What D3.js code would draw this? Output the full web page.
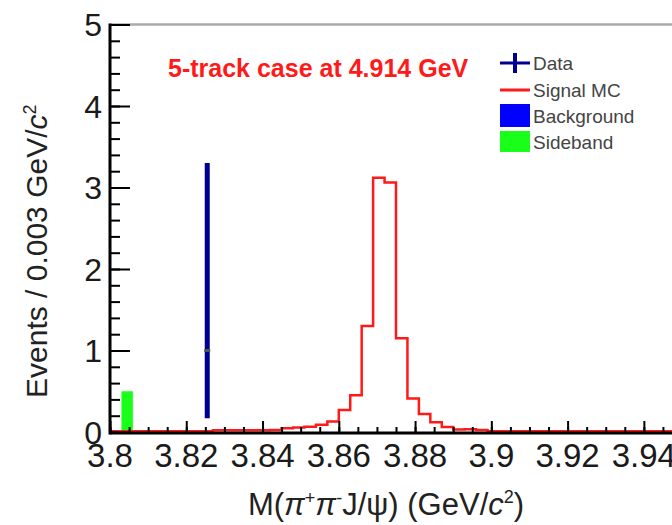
<!DOCTYPE html>
<html>
<head>
<meta charset="utf-8">
<script src="https://cdn.jsdelivr.net/npm/d3@7"></script>
<style>
  html, body { margin: 0; padding: 0; background: #ffffff; }
  svg { display: block; font-family: "Liberation Sans", Arial, sans-serif; }
</style>
</head>
<body>
<svg id="chart" width="672" height="525"></svg>
<script>
// Binning of the M(pi+ pi- J/psi) histogram (GeV/c^2)
const binStart = 3.800;
const binWidth = 0.003;

// Signal MC, events per bin (bins of 0.003 starting at 3.800)
const signalMC = [
  0.008, 0.008, 0.008, 0.008, 0.008, 0.008, 0.008, 0.008, 0.008, 0.02,
  0.02, 0.02, 0.02, 0.02, 0.025, 0.045, 0.055, 0.065, 0.09, 0.13,
  0.27, 0.45, 1.30, 3.12, 3.06, 1.15, 0.41, 0.22, 0.12, 0.06,
  0.03, 0.035, 0.025, 0.01, 0.01, 0.01, 0.01, 0.01, 0.01, 0.01,
  0.01, 0.01, 0.01, 0.01, 0.01, 0.01, 0.01, 0.01, 0.01, 0.01
];

// Sideband contribution: [bin low edge, events]
const sideband = [[3.803, 0.5]];

// Data points: mass, events, lower error, upper error
const dataMass = [3.8255];
const dataEvents = [1];
const dataErrLow = [0.83];
const dataErrHigh = [2.30];

// Axis ticks
const xMajorTicks = [3.80, 3.82, 3.84, 3.86, 3.88, 3.90, 3.92, 3.94];
const xTickLabels = ["3.8", "3.82", "3.84", "3.86", "3.88", "3.9", "3.92", "3.94"];
const yMajorTicks = [0, 1, 2, 3, 4, 5];

const legendLabels = ["Data", "Signal MC", "Background", "Sideband"];
const titleText = "5-track case at 4.914 GeV";

const svg = d3.select("#chart");

const x = d3.scaleLinear().domain([3.80, 3.95]).range([110, 682]);
const y = d3.scaleLinear().domain([0, 5]).range([432, 24.5]);

const plot = svg.append("g");

// top frame line
plot.append("line")
  .attr("x1", x(3.80)).attr("x2", 672)
  .attr("y1", y(5)).attr("y2", y(5))
  .attr("stroke", "#aaaaaa").attr("stroke-width", 2.3);

// Sideband histogram
plot.selectAll("rect.sb").data(sideband).enter().append("rect")
  .attr("class", "sb")
  .attr("x", d => x(d[0]))
  .attr("width", d => x(d[0] + binWidth) - x(d[0]))
  .attr("y", d => y(d[1]))
  .attr("height", d => y(0) - y(d[1]))
  .attr("fill", "#1aff1a");

// Signal MC step histogram
const steps = [];
signalMC.forEach((v, i) => {
  const lo = binStart + i * binWidth;
  steps.push([lo, v]);
  steps.push([lo + binWidth, v]);
});
const stepLine = d3.line().x(d => x(d[0])).y(d => y(d[1]));
plot.append("path")
  .datum(steps)
  .attr("d", stepLine)
  .attr("fill", "none")
  .attr("stroke", "#ff1a1a")
  .attr("stroke-width", 2.5)
  .attr("stroke-linejoin", "miter");

// Data error bars
dataMass.forEach((m, i) => {
  plot.append("line")
    .attr("x1", x(m)).attr("x2", x(m))
    .attr("y1", y(dataEvents[i] + dataErrHigh[i]))
    .attr("y2", y(dataEvents[i] - dataErrLow[i]))
    .attr("stroke", "#000090").attr("stroke-width", 5);
  plot.append("rect")
    .attr("x", x(m) - 3).attr("y", y(dataEvents[i]) - 1.5)
    .attr("width", 6).attr("height", 3)
    .attr("fill", "#555555");
});

// Axes
const axisG = svg.append("g");
const xAxisMajor = d3.axisTop(x).tickValues(xMajorTicks).tickSize(12).tickFormat("");
const xMinor = d3.range(0, 31).map(i => 3.80 + i * 0.005).filter(v => v <= 3.95);
const xAxisMinor = d3.axisTop(x).tickValues(xMinor).tickSize(6).tickFormat("");

const gxMinor = axisG.append("g").attr("transform", `translate(0,${y(0) + 1})`).call(xAxisMinor);
const gxMajor = axisG.append("g").attr("transform", `translate(0,${y(0) + 1})`).call(xAxisMajor);
[gxMinor, gxMajor].forEach(g => {
  g.select(".domain").remove();
  g.selectAll(".tick line").attr("stroke", "#000").attr("stroke-width", 2);
});

const yMinor = d3.range(0, 26).map(i => i * 0.2);
const yAxisMinor = d3.axisRight(y).tickValues(yMinor).tickSize(10).tickFormat("");
const yAxisMajor = d3.axisRight(y).tickValues(yMajorTicks).tickSize(20).tickFormat("");
const gyMinor = axisG.append("g").attr("transform", `translate(${x(3.80)},0)`).call(yAxisMinor);
const gyMajor = axisG.append("g").attr("transform", `translate(${x(3.80)},0)`).call(yAxisMajor);
[gyMinor, gyMajor].forEach(g => {
  g.select(".domain").remove();
  g.selectAll(".tick line").attr("stroke", "#000").attr("stroke-width", 2);
});

// axis lines
axisG.append("line")
  .attr("x1", x(3.80)).attr("x2", 672)
  .attr("y1", y(0) + 1).attr("y2", y(0) + 1)
  .attr("stroke", "#000").attr("stroke-width", 3);
axisG.append("line")
  .attr("x1", x(3.80)).attr("x2", x(3.80))
  .attr("y1", y(5) - 1).attr("y2", y(0) + 2.5)
  .attr("stroke", "#000").attr("stroke-width", 3);

// x tick labels
axisG.selectAll("text.xl").data(xMajorTicks).enter().append("text")
  .attr("class", "xl")
  .attr("x", d => x(d))
  .attr("y", 467)
  .attr("text-anchor", "middle")
  .attr("font-size", 33)
  .attr("fill", "#1a1a1a")
  .text((d, i) => xTickLabels[i]);

// y tick labels
axisG.selectAll("text.yl").data(yMajorTicks).enter().append("text")
  .attr("class", "yl")
  .attr("x", 102)
  .attr("y", d => y(d) + 11.5)
  .attr("text-anchor", "end")
  .attr("font-size", 32)
  .attr("fill", "#1a1a1a")
  .text(d => d);

// x axis title
const xt = svg.append("text")
  .attr("x", 386).attr("y", 515)
  .attr("text-anchor", "middle")
  .attr("font-size", 31)
  .attr("fill", "#222");
xt.append("tspan").text("M(");
xt.append("tspan").attr("font-style", "italic").text("π");
xt.append("tspan").attr("dy", -11).attr("font-size", 18).text("+");
xt.append("tspan").attr("dy", 11).attr("font-style", "italic").text("π");
xt.append("tspan").attr("dy", -11).attr("font-size", 18).text("-");
xt.append("tspan").attr("dy", 11).text("J/ψ) (GeV/");
xt.append("tspan").attr("font-style", "italic").text("c");
xt.append("tspan").attr("dy", -12).attr("font-size", 18).text("2");
xt.append("tspan").attr("dy", 12).text(")");

// y axis title
const yt = svg.append("text")
  .attr("transform", "translate(47,398) rotate(-90)")
  .attr("text-anchor", "start")
  .attr("font-size", 30)
  .attr("fill", "#222");
yt.append("tspan").text("Events / 0.003 GeV/");
yt.append("tspan").attr("font-style", "italic").text("c");
yt.append("tspan").attr("dy", -11).attr("font-size", 18).text("2");

// chart label
svg.append("text")
  .attr("x", 168).attr("y", 77)
  .attr("font-size", 25)
  .attr("font-weight", "bold")
  .attr("fill", "#ff1a1a")
  .text(titleText);

// Legend
const lg = svg.append("g");
const rowY = [63, 90, 115.5, 141.5];
// Data marker
lg.append("line").attr("x1", 500).attr("x2", 530).attr("y1", rowY[0]).attr("y2", rowY[0])
  .attr("stroke", "#000090").attr("stroke-width", 3);
lg.append("line").attr("x1", 515).attr("x2", 515).attr("y1", rowY[0] - 10).attr("y2", rowY[0] + 10)
  .attr("stroke", "#000090").attr("stroke-width", 4);
// Signal MC
lg.append("line").attr("x1", 500).attr("x2", 530).attr("y1", rowY[1]).attr("y2", rowY[1])
  .attr("stroke", "#ff1a1a").attr("stroke-width", 3);
// Background
lg.append("rect").attr("x", 500).attr("y", 104).attr("width", 30).attr("height", 23).attr("fill", "#0000ff");
// Sideband
lg.append("rect").attr("x", 500).attr("y", 131).attr("width", 30).attr("height", 21).attr("fill", "#1aff1a");

lg.selectAll("text").data(legendLabels).enter().append("text")
  .attr("x", 533)
  .attr("y", (d, i) => rowY[i] + 7)
  .attr("font-size", 19)
  .attr("fill", "#444")
  .text(d => d);
</script>
</body>
</html>
